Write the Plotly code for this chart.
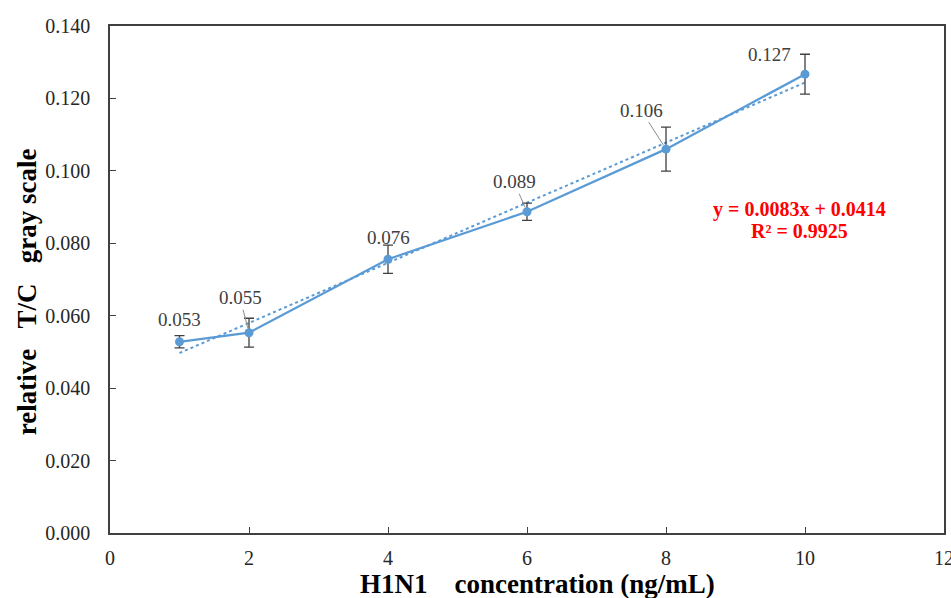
import plotly.graph_objects as go

# ---- data ----
concentration = [1, 2, 4, 6, 8, 10]
gray_scale = [0.0528, 0.0553, 0.0756, 0.0887, 0.1060, 0.1267]
error = [0.0017, 0.0040, 0.0039, 0.0024, 0.0061, 0.0055]
slope = 0.0083
intercept = 0.0414
r_squared = 0.9925
x_ticks = [0, 2, 4, 6, 8, 10, 12]
y_ticks = [0.000, 0.020, 0.040, 0.060, 0.080, 0.100, 0.120, 0.140]
x_title = "H1N1\u00a0\u00a0\u00a0\u00a0concentration (ng/mL)"
y_title = "relative\u00a0\u00a0\u00a0T/C\u00a0\u00a0\u00a0gray scale"

# label placement (pixel offsets: dx, dy, leader line?)
label_offsets = [(0, -22, False), (-9, -35, True), (0, -22, False),
                 (-13, -30, True), (-25, -39, True), (-36, -20, False)]

FONT = "Liberation Serif, Times New Roman, serif"
BLUE = "#5B9BD5"

trend_x = [concentration[0], concentration[-1]]
trend_y = [slope * v + intercept for v in trend_x]

fig = go.Figure()
fig.add_trace(go.Scatter(
    x=trend_x, y=trend_y, mode="lines",
    line=dict(color=BLUE, width=2, dash="dot"),
    hoverinfo="skip", showlegend=False))
fig.add_trace(go.Scatter(
    x=concentration, y=gray_scale, mode="lines+markers",
    line=dict(color=BLUE, width=2.25),
    marker=dict(color=BLUE, size=9),
    error_y=dict(type="data", array=error, visible=True,
                 color="#404040", thickness=1.3, width=5),
    showlegend=False))

annotations = []
for xv, yv, (dx, dy, leader) in zip(concentration, gray_scale, label_offsets):
    txt = f"{yv:.3f}"
    if leader:
        annotations.append(dict(
            x=xv, y=yv, xref="x", yref="y", text=txt, showarrow=True,
            arrowhead=0, arrowwidth=1, arrowcolor="#8c8c8c",
            ax=dx, ay=dy, standoff=5,
            font=dict(family=FONT, size=19, color="#404040")))
    else:
        annotations.append(dict(
            x=xv, y=yv, xref="x", yref="y", text=txt, showarrow=False,
            xshift=dx, yshift=-dy,
            font=dict(family=FONT, size=19, color="#404040")))

eq_lines = [f"<b>y = {slope}x + {intercept}</b>", f"<b>R² = {r_squared}</b>"]
for txt, py in zip(eq_lines, [0.639, 0.596]):
    annotations.append(dict(
        x=0.827, y=py, xref="paper", yref="paper", showarrow=False,
        text=txt, xanchor="center", yanchor="middle",
        font=dict(family=FONT, size=20, color="#FF0000")))

# axis titles
annotations.append(dict(
    x=0.513, y=-0.101, xref="paper", yref="paper", showarrow=False,
    text=f"<b>{x_title}</b>", xanchor="center", yanchor="middle",
    font=dict(family=FONT, size=27, color="#000000")))
annotations.append(dict(
    x=-0.0995, y=0.475, xref="paper", yref="paper", showarrow=False,
    text=f"<b>{y_title}</b>", textangle=-90, xanchor="center", yanchor="middle",
    font=dict(family=FONT, size=27, color="#000000")))

fig.update_layout(
    width=951, height=598,
    margin=dict(l=110, r=7, t=26, b=65),
    paper_bgcolor="white", plot_bgcolor="white",
    font=dict(family=FONT, color="#262626"),
    annotations=annotations,
    xaxis=dict(
        range=[0, 12], tickvals=x_ticks, ticktext=[str(v) for v in x_ticks],
        ticks="inside", ticklen=6, tickcolor="#404040", tickwidth=1.3,
        showline=True, linecolor="#404040", linewidth=1.5, mirror=True,
        showgrid=False, zeroline=False, automargin=False,
        ticklabelstandoff=6, ticklabeloverflow="allow",
        tickfont=dict(family=FONT, size=20, color="#262626")),
    yaxis=dict(
        range=[0, 0.14], tickvals=y_ticks, ticktext=[f"{v:.3f}" for v in y_ticks],
        ticks="inside", ticklen=6, tickcolor="#404040", tickwidth=1.3,
        showline=True, linecolor="#404040", linewidth=1.5, mirror=True,
        showgrid=False, zeroline=False, automargin=False,
        ticklabelstandoff=14, ticklabeloverflow="allow",
        tickfont=dict(family=FONT, size=20, color="#262626")),
)

fig.write_html("out.html")
